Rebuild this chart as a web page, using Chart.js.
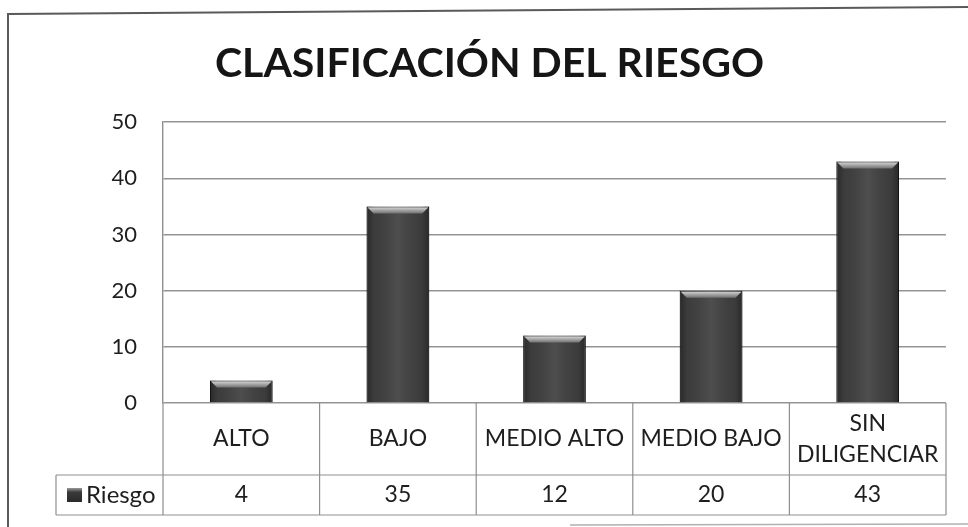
<!DOCTYPE html>
<html>
<head>
<meta charset="utf-8">
<script src="https://cdn.jsdelivr.net/npm/chart.js@4.4.1/dist/chart.umd.min.js"></script>
<style>
  html, body { margin: 0; padding: 0; background: #fff; }
  #wrap { width: 968px; height: 527px; }
</style>
</head>
<body>
<div id="wrap"><canvas id="chart" width="968" height="527"></canvas></div>
<script>
// data
const chartTitle = 'CLASIFICACIÓN DEL RIESGO';
const seriesName = 'Riesgo';
const categories = ['ALTO', 'BAJO', 'MEDIO ALTO', 'MEDIO BAJO', 'SIN DILIGENCIAR'];
const riesgo = [4, 35, 12, 20, 43];
const yTicks = [0, 10, 20, 30, 40, 50];

const FONT = 'Lato, "Open Sans", sans-serif';
const TEXT = '#1e1e1e';
const LINE = '#8f8f8f';

// wrap a label into lines that fit the column
function wrapLabel(ctx, text, maxW) {
	const words = text.split(' ');
	const lines = [];
	let cur = '';
	words.forEach(w => {
		const test = cur ? cur + ' ' + w : w;
		if (cur && ctx.measureText(test).width > maxW) {
			lines.push(cur);
			cur = w;
		} else {
			cur = test;
		}
	});
	if (cur) lines.push(cur);
	return lines;
}

// page frame of the scanned sheet
const framePlugin = {
	id: 'frame',
	afterLayout(chart) {
		// the title sits centred over the whole frame, not the canvas
		if (chart.titleBlock) chart.titleBlock.left = 33;
	},
	beforeDraw(chart) {
		const ctx = chart.ctx;
		ctx.save();
		ctx.strokeStyle = '#5a5a5a';
		ctx.lineWidth = 2;
		ctx.beginPath();
		ctx.moveTo(8, 527);
		ctx.lineTo(8, 14);
		ctx.lineTo(968, 7);
		ctx.stroke();
		ctx.strokeStyle = '#b0b0b0';
		ctx.lineWidth = 1.5;
		ctx.beginPath();
		ctx.moveTo(570, 525);
		ctx.lineTo(968, 524);
		ctx.stroke();
		ctx.restore();
	}
};

// shading and bevel on top of each bar (uses the bar elements' geometry)
const bevelPlugin = {
	id: 'bevel',
	afterDatasetsDraw(chart) {
		const ctx = chart.ctx;
		const meta = chart.getDatasetMeta(0);
		ctx.save();
		meta.data.forEach(bar => {
			const {x, y, base, width} = bar.getProps(['x', 'y', 'base', 'width'], true);
			const l = x - width / 2, r = x + width / 2;
			const g = ctx.createLinearGradient(l, 0, r, 0);
			g.addColorStop(0, 'rgba(0,0,0,0.35)');
			g.addColorStop(0.12, 'rgba(0,0,0,0.05)');
			g.addColorStop(0.5, 'rgba(255,255,255,0.08)');
			g.addColorStop(0.88, 'rgba(0,0,0,0.05)');
			g.addColorStop(1, 'rgba(0,0,0,0.35)');
			ctx.fillStyle = g;
			ctx.fillRect(l, y, width, base - y);
			const h = Math.min(7, (base - y) / 2);
			const vg = ctx.createLinearGradient(0, y, 0, y + h);
			vg.addColorStop(0, '#e2e2e2');
			vg.addColorStop(1, '#707070');
			ctx.fillStyle = vg;
			ctx.beginPath();
			ctx.moveTo(l + 1, y + 1);
			ctx.lineTo(r - 1, y + 1);
			ctx.lineTo(r - 7, y + h);
			ctx.lineTo(l + 7, y + h);
			ctx.closePath();
			ctx.fill();
		});
		ctx.restore();
	}
};

// Excel style data table under the plot, laid out on the x scale
const tablePlugin = {
	id: 'dataTable',
	afterDraw(chart) {
		const ctx = chart.ctx;
		const xs = chart.scales.x;
		const area = chart.chartArea;
		const half = (xs.getPixelForValue(1) - xs.getPixelForValue(0)) / 2;
		const top = area.bottom;
		const mid = top + 72;
		const bot = mid + 40;
		const legendLeft = 56;

		ctx.save();
		ctx.strokeStyle = LINE;
		ctx.lineWidth = 1.2;
		ctx.beginPath();
		// horizontal rules
		ctx.moveTo(legendLeft, mid); ctx.lineTo(area.right, mid);
		ctx.moveTo(legendLeft, bot); ctx.lineTo(area.right, bot);
		// legend cell left edge
		ctx.moveTo(legendLeft, mid); ctx.lineTo(legendLeft, bot);
		// column rules
		ctx.moveTo(area.left, top); ctx.lineTo(area.left, bot);
		categories.forEach((c, i) => {
			const xr = xs.getPixelForValue(i) + half;
			ctx.moveTo(xr, top); ctx.lineTo(xr, bot);
		});
		ctx.stroke();

		ctx.fillStyle = TEXT;
		ctx.font = '23px ' + FONT;
		ctx.textAlign = 'center';
		ctx.textBaseline = 'middle';
		categories.forEach((c, i) => {
			const cx = xs.getPixelForValue(i);
			const lines = wrapLabel(ctx, c, half * 2 - 10);
			const lh = 31;
			const y0 = (top + mid) / 2 - (lines.length - 1) * lh / 2;
			lines.forEach((ln, k) => ctx.fillText(ln, cx, y0 + k * lh));
			ctx.fillText(String(riesgo[i]), cx, (mid + bot) / 2);
		});

		// legend key and series name
		const ky = (mid + bot) / 2;
		const kg = ctx.createLinearGradient(0, ky - 7, 0, ky + 7);
		kg.addColorStop(0, '#9a9a9a');
		kg.addColorStop(0.3, '#3a3a3a');
		kg.addColorStop(1, '#2a2a2a');
		ctx.fillStyle = kg;
		ctx.fillRect(67, ky - 7, 15, 14);
		ctx.fillStyle = TEXT;
		ctx.font = '24px ' + FONT;
		ctx.textAlign = 'left';
		ctx.fillText(seriesName, 86, ky);
		ctx.restore();
	}
};

new Chart(document.getElementById('chart').getContext('2d'), {
	type: 'bar',
	data: {
		labels: categories,
		datasets: [
			{
				label: seriesName,
				data: riesgo,
				backgroundColor: '#3f3f3f',
				borderColor: '#1c1c1c',
				borderWidth: 1,
				barPercentage: 0.4,
				categoryPercentage: 1
			}
		]
	},
	options: {
		responsive: false,
		animation: false,
		layout: {
			padding: { left: 0, right: 22, top: 0, bottom: 124 }
		},
		plugins: {
			legend: { display: false },
			tooltip: { enabled: false },
			title: {
				display: true,
				text: chartTitle,
				color: '#151515',
				font: { family: FONT, size: 41, weight: 'bold', lineHeight: 1.2 },
				padding: { top: 39, bottom: 34 }
			}
		},
		scales: {
			x: {
				display: false
			},
			y: {
				min: 0,
				max: 50,
				afterBuildTicks(scale) {
					scale.ticks = yTicks.map(v => ({ value: v }));
				},
				afterFit(scale) {
					scale.width = 163;
				},
				ticks: {
					color: TEXT,
					padding: 26,
					font: { family: FONT, size: 22 }
				},
				grid: {
					color: 'rgba(0,0,0,0.42)',
					lineWidth: 1.4,
					drawTicks: false
				},
				border: {
					display: true,
					color: LINE,
					width: 1.4
				}
			}
		}
	},
	plugins: [framePlugin, bevelPlugin, tablePlugin]
});
</script>
</body>
</html>
